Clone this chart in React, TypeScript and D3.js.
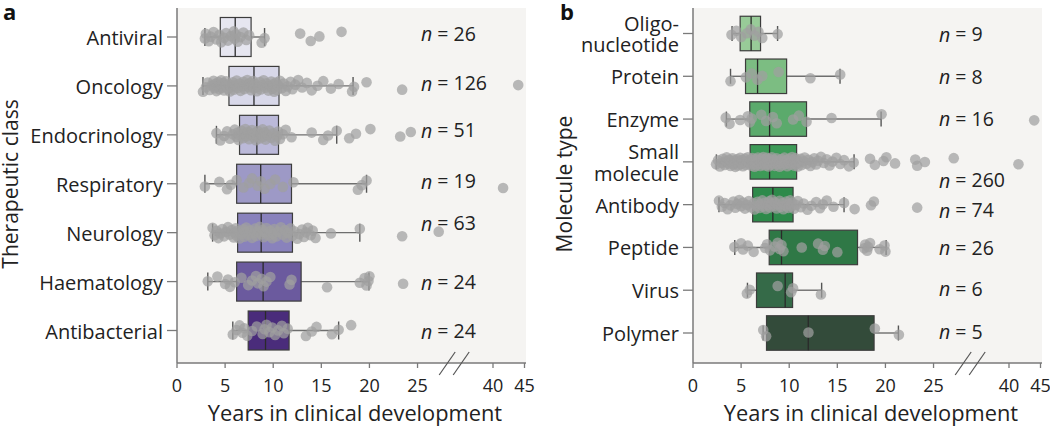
import React from 'react';
import * as d3 from 'd3';

const FONT = '"Open Sans", "DejaVu Sans", sans-serif';

// ---------- Panel a: therapeutic class ----------
const classCategories = ['Antiviral', 'Oncology', 'Endocrinology', 'Respiratory', 'Neurology', 'Haematology', 'Antibacterial'];
const classCounts = [26, 126, 51, 19, 63, 24, 24];
const classQ1 = [4.5, 5.4, 6.5, 6.2, 6.3, 6.2, 7.4];
const classMedian = [6.05, 8.0, 8.3, 8.7, 8.75, 8.95, 9.2];
const classQ3 = [7.7, 10.6, 10.55, 11.9, 12.0, 12.9, 11.65];
const classWhiskerLow = [2.9, 2.7, 4.1, 2.9, 3.7, 3.2, 5.8];
const classWhiskerHigh = [9.1, 18.3, 16.6, 19.7, 19.0, 19.95, 16.8];
const classColors = ['#e6e6f0', '#d8d8e9', '#bbb9d9', '#9d99c6', '#8982bc', '#6b5a9e', '#4a2c7b'];

const antiviralYears = [2.9, 3.0, 3.3, 3.5, 3.8, 4.1, 4.4, 4.6, 4.9, 5.1, 5.3, 5.6, 5.9, 6.0, 6.1, 6.3, 6.6, 6.9, 7.2, 7.5, 8.8, 9.1, 12.8, 13.9, 14.8, 17.1];
const oncologyYears = [
  2.7, 3.0, 3.2, 3.4, 3.6, 3.8, 3.9, 4.0, 4.1, 4.2, 4.3, 4.4, 4.5, 4.6, 4.7, 4.8, 4.9, 5.0, 5.1, 5.3,
  5.4, 5.5, 5.6, 5.8, 5.9, 6.0, 6.2, 6.3, 6.5, 6.6, 6.8, 6.9, 7.0, 7.2, 7.3, 7.5, 7.6, 7.7, 7.8, 7.9,
  8.0, 8.1, 8.3, 8.4, 8.6, 8.7, 8.9, 9.0, 9.2, 9.3, 9.5, 9.6, 9.8, 9.9, 10.0, 10.1, 10.2, 10.3, 10.4, 10.5,
  10.7, 10.9, 11.1, 11.3, 11.5, 11.8, 12.0, 12.3, 12.6, 13.0, 13.5, 14.0, 14.6, 15.2, 16.0, 16.8, 18.2, 18.4, 19.7, 23.4, 44.0,
];
const endocrinologyYears = [
  4.1, 4.5, 4.9, 5.2, 5.5, 5.8, 6.0, 6.2, 6.3, 6.4, 6.5, 6.7, 6.9, 7.0, 7.1, 7.2, 7.4, 7.5, 7.7, 7.8,
  8.0, 8.1, 8.2, 8.3, 8.4, 8.6, 8.7, 8.9, 9.0, 9.1, 9.2, 9.4, 9.6, 9.8, 10.0, 10.2, 10.4, 10.5, 10.7, 11.0,
  11.3, 11.9, 14.0, 15.2, 15.7, 16.6, 17.9, 18.6, 20.1, 23.2, 24.3,
];
const respiratoryYears = [2.9, 4.4, 5.2, 5.6, 6.2, 6.9, 7.5, 7.8, 8.4, 8.7, 9.1, 9.7, 10.2, 11.0, 12.1, 18.8, 19.2, 19.7, 41.6];
const neurologyYears = [
  3.7, 3.9, 4.1, 4.3, 4.5, 4.7, 4.9, 5.1, 5.3, 5.5, 5.7, 5.9, 6.0, 6.1, 6.2, 6.3, 6.5, 6.7, 6.9, 7.0,
  7.1, 7.2, 7.4, 7.6, 7.8, 8.0, 8.1, 8.2, 8.4, 8.6, 8.75, 8.9, 9.0, 9.1, 9.3, 9.5, 9.7, 9.9, 10.0, 10.1,
  10.3, 10.5, 10.8, 11.0, 11.2, 11.4, 11.5, 11.8, 12.0, 12.2, 12.5, 12.7, 13.0, 13.2, 13.4, 13.6, 13.9, 14.1, 14.4, 16.0,
  19.0, 23.4, 27.2,
];
const haematologyYears = [3.2, 4.2, 5.0, 5.3, 5.5, 6.0, 6.7, 7.4, 7.8, 8.2, 8.4, 8.8, 9.0, 9.3, 9.7, 11.7, 11.9, 15.6, 19.0, 19.5, 19.7, 19.9, 20.0, 23.5];
const antibacterialYears = [5.8, 6.2, 6.5, 6.8, 7.0, 7.3, 7.8, 8.3, 8.9, 9.1, 9.3, 9.6, 9.9, 10.2, 10.5, 10.9, 11.1, 11.5, 13.4, 14.0, 14.5, 16.1, 16.8, 18.1];

// ---------- Panel b: molecule type ----------
const moleculeCategories = ['Oligonucleotide', 'Protein', 'Enzyme', 'Small molecule', 'Antibody', 'Peptide', 'Virus', 'Polymer'];
const moleculeLabelLines = [['Oligo-', 'nucleotide'], ['Protein'], ['Enzyme'], ['Small', 'molecule'], ['Antibody'], ['Peptide'], ['Virus'], ['Polymer']];
const moleculeCounts = [9, 8, 16, 260, 74, 26, 6, 5];
const moleculeQ1 = [4.9, 5.46, 5.9, 5.94, 6.2, 7.92, 6.6, 7.64];
const moleculeMedian = [6.04, 6.71, 7.96, 7.96, 8.3, 9.2, 9.58, 11.98];
const moleculeQ3 = [7.02, 9.73, 11.8, 10.77, 10.4, 17.1, 10.35, 18.82];
const moleculeWhiskerLow = [4.06, 3.9, 3.47, 2.43, 2.7, 4.34, 5.66, 7.29];
const moleculeWhiskerHigh = [8.79, 15.28, 19.55, 16.74, 15.7, 20.07, 13.37, 21.35];
const moleculeColors = ['#98cb98', '#7cbd82', '#5baa6c', '#3d9a57', '#2d8a4a', '#2f7846', '#356a48', '#334b3a'];

const oligonucleotideYears = [4.0, 4.5, 5.0, 5.6, 6.0, 6.4, 6.8, 7.2, 8.8];
const proteinYears = [3.9, 5.5, 6.1, 6.7, 7.2, 8.9, 12.2, 15.3];
const enzymeYears = [3.4, 3.8, 4.9, 5.7, 5.9, 6.1, 7.1, 7.6, 8.3, 8.7, 10.4, 11.0, 11.8, 14.4, 19.6, 44.0];
const smallMoleculeYears = [
  2.4, 2.6, 2.8, 3.0, 3.1, 3.3, 3.4, 3.5, 3.7, 3.8, 3.9, 4.0, 4.1, 4.2, 4.3, 4.4, 4.5, 4.6, 4.7, 4.8,
  4.9, 5.0, 5.1, 5.2, 5.3, 5.4, 5.5, 5.6, 5.7, 5.8,
  6.0, 6.05, 6.1, 6.2, 6.25, 6.3, 6.4, 6.45, 6.5, 6.6, 6.7, 6.75, 6.8, 6.9, 7.0, 7.05, 7.1, 7.2, 7.25, 7.3,
  7.4, 7.45, 7.5, 7.6, 7.65, 7.7, 7.8, 7.85, 7.9, 7.95,
  8.0, 8.1, 8.2, 8.3, 8.4, 8.5, 8.6, 8.7, 8.8, 8.9, 9.0, 9.1, 9.2, 9.3, 9.4, 9.5, 9.6, 9.7, 9.8, 9.9,
  10.0, 10.1, 10.2, 10.3, 10.4, 10.5, 10.55, 10.6, 10.65, 10.7,
  10.8, 10.9, 11.0, 11.2, 11.3, 11.5, 11.6, 11.8, 12.0, 12.2, 12.4, 12.6, 12.8, 13.0, 13.3, 13.6, 13.9, 14.2, 14.5, 14.9,
  15.3, 15.7, 16.2, 16.7, 18.4, 18.9, 19.8, 20.1, 21.0, 23.1, 23.3, 24.1, 27.1, 41.5,
];
const antibodyYears = [
  2.7, 3.0, 3.3, 3.6, 3.9, 4.2, 4.4, 4.6, 4.8, 5.0, 5.2, 5.4, 5.6, 5.8, 6.0,
  6.3, 6.4, 6.6, 6.7, 6.9, 7.0, 7.2, 7.3, 7.5, 7.6, 7.8, 7.9, 8.0, 8.1, 8.2,
  8.4, 8.5, 8.7, 8.8, 9.0, 9.1, 9.3, 9.4, 9.6, 9.7, 9.9, 10.0, 10.1, 10.2, 10.3,
  10.5, 10.7, 10.9, 11.2, 11.5, 11.9, 12.3, 12.8, 13.2, 13.5, 13.9, 14.6, 15.7, 16.8, 18.5, 18.8, 23.3,
];
const peptideYears = [4.3, 5.0, 5.2, 5.7, 6.3, 7.5, 7.7, 8.0, 8.5, 8.8, 9.0, 9.2, 9.4, 11.3, 13.0, 13.5, 13.7, 15.0, 17.8, 17.9, 18.1, 18.2, 18.4, 19.4, 19.9, 20.0];
const virusYears = [5.6, 5.9, 8.8, 10.2, 10.4, 13.3];
const polymerYears = [7.3, 7.6, 12.0, 18.9, 21.4];

const xTickValues = [0, 5, 10, 15, 20, 25, 40, 45];

// layout
const PLOT_TOP = 8;
const PLOT_BOTTOM = 363;
const PLOT_W = 349;

interface PanelProps {
  x0: number;
  letter: string;
  letterX: number;
  title: string;
  titleX: number;
  cats: string[];
  labelLines: string[][];
  counts: number[];
  q1: number[];
  med: number[];
  q3: number[];
  lo: number[];
  hi: number[];
  colors: string[];
  points: number[][];
  yFirst: number;
  yLast: number;
  boxH: number;
  capH: number;
  jitterAmp: number;
  nDy: number[];
  nX: number;
  lineGap: number;
}

function Panel(p: PanelProps) {
  const x = d3.scaleLinear().domain([0, 28, 40, 45]).range([p.x0, p.x0 + 269.4, p.x0 + 316, p.x0 + 347.5]);
  const y = d3.scalePoint<string>().domain(p.cats).range([p.yFirst, p.yLast]);
  const axisColor = '#7a7a7a';
  const brk1 = x(28.2) as number;
  const brk2 = brk1 + 14;
  return (
    <g>
      <rect x={p.x0} y={PLOT_TOP} width={PLOT_W} height={PLOT_BOTTOM - PLOT_TOP} fill="#f5f4f2" />
      {p.cats.map((c, i) => {
        const cy = y(c) as number;
        return (
          <g key={c}>
            <line x1={x(p.lo[i])} x2={x(p.q1[i])} y1={cy} y2={cy} stroke="#6e6e6e" strokeWidth={1.4} />
            <line x1={x(p.q3[i])} x2={x(p.hi[i])} y1={cy} y2={cy} stroke="#6e6e6e" strokeWidth={1.4} />
            <line x1={x(p.lo[i])} x2={x(p.lo[i])} y1={cy - p.capH / 2} y2={cy + p.capH / 2} stroke="#555" strokeWidth={1.4} />
            <line x1={x(p.hi[i])} x2={x(p.hi[i])} y1={cy - p.capH / 2} y2={cy + p.capH / 2} stroke="#555" strokeWidth={1.4} />
            <rect
              x={x(p.q1[i])}
              y={cy - p.boxH / 2}
              width={(x(p.q3[i]) as number) - (x(p.q1[i]) as number)}
              height={p.boxH}
              fill={p.colors[i]}
              stroke="#3c3c3c"
              strokeWidth={1.2}
            />
            <line x1={x(p.med[i])} x2={x(p.med[i])} y1={cy - p.boxH / 2} y2={cy + p.boxH / 2} stroke="#2a2a2a" strokeWidth={1.3} />
          </g>
        );
      })}
      {p.cats.map((c, i) => {
        const cy = y(c) as number;
        return (
          <g key={'pts' + c}>
            {p.points[i].map((v, j) => {
              const jit = ((((j + 1) * 0.61803398875 + i * 0.37) % 1) - 0.5) * 2 * p.jitterAmp;
              return <circle key={j} cx={x(v)} cy={cy + jit} r={5.3} fill="#a0a0a0" fillOpacity={0.72} />;
            })}
          </g>
        );
      })}
      <line x1={p.x0} x2={p.x0} y1={PLOT_TOP} y2={PLOT_BOTTOM} stroke={axisColor} strokeWidth={1.5} />
      <line x1={p.x0} x2={p.x0 + PLOT_W} y1={PLOT_BOTTOM} y2={PLOT_BOTTOM} stroke={axisColor} strokeWidth={1.5} />
      <line x1={brk1 - 8} x2={brk1 + 8} y1={PLOT_BOTTOM + 12} y2={PLOT_BOTTOM - 11} stroke="#555" strokeWidth={1.2} />
      <line x1={brk2 - 8} x2={brk2 + 8} y1={PLOT_BOTTOM + 12} y2={PLOT_BOTTOM - 11} stroke="#555" strokeWidth={1.2} />
      {xTickValues.map((t) => (
        <g key={'t' + t}>
          <line x1={x(t)} x2={x(t)} y1={PLOT_BOTTOM} y2={PLOT_BOTTOM + 5} stroke={axisColor} strokeWidth={1.3} />
          <text x={x(t)} y={385} textAnchor="middle" dominantBaseline="central" fontSize={18} fill="#222" fontFamily={FONT}>
            {t}
          </text>
        </g>
      ))}
      {p.cats.map((c, i) => {
        const cy = y(c) as number;
        const lines = p.labelLines[i];
        const startY = cy - ((lines.length - 1) / 2) * p.lineGap;
        return (
          <g key={'yl' + c}>
            <line x1={p.x0 - 10} x2={p.x0} y1={cy} y2={cy} stroke={axisColor} strokeWidth={1.3} />
            <text x={p.x0 - 14} y={startY} textAnchor="end" dominantBaseline="central" fontSize={20} fill="#222" fontFamily={FONT}>
              {lines.map((ln, k) => (
                <tspan key={k} x={p.x0 - 14} dy={k === 0 ? 0 : p.lineGap}>
                  {ln}
                </tspan>
              ))}
            </text>
            <text x={p.nX} y={cy + p.nDy[i]} dominantBaseline="central" fontSize={19.5} fill="#222" fontFamily={FONT}>
              <tspan fontStyle="italic">n</tspan>
              {' = ' + p.counts[i]}
            </text>
          </g>
        );
      })}
      <text x={p.x0 + 178} y={412} textAnchor="middle" dominantBaseline="central" fontSize={21.8} fill="#222" fontFamily={FONT}>
        Years in clinical development
      </text>
      <text transform={`translate(${p.titleX},184) rotate(-90)`} textAnchor="middle" fontSize={21} fill="#222" fontFamily={FONT}>
        {p.title}
      </text>
      <text x={p.letterX} y={20} fontSize={22} fontWeight="bold" fill="#111" fontFamily={FONT}>
        {p.letter}
      </text>
    </g>
  );
}

export default function App() {
  return (
    <svg width={1050} height={427} style={{ position: 'absolute', left: 0, top: 0, background: '#fff' }}>
      <Panel
        x0={177}
        letter="a"
        letterX={3}
        title="Therapeutic class"
        titleX={18}
        cats={classCategories}
        labelLines={classCategories.map((c) => [c])}
        counts={classCounts}
        q1={classQ1}
        med={classMedian}
        q3={classQ3}
        lo={classWhiskerLow}
        hi={classWhiskerHigh}
        colors={classColors}
        points={[antiviralYears, oncologyYears, endocrinologyYears, respiratoryYears, neurologyYears, haematologyYears, antibacterialYears]}
        yFirst={37}
        yLast={330.5}
        boxH={39}
        capH={18}
        jitterAmp={6}
        nDy={[-4, -3, -5, -3, -10, 0, 0]}
        nX={421}
        lineGap={22}
      />
      <Panel
        x0={693}
        letter="b"
        letterX={560}
        title="Molecule type"
        titleX={572}
        cats={moleculeCategories}
        labelLines={moleculeLabelLines}
        counts={moleculeCounts}
        q1={moleculeQ1}
        med={moleculeMedian}
        q3={moleculeQ3}
        lo={moleculeWhiskerLow}
        hi={moleculeWhiskerHigh}
        colors={moleculeColors}
        points={[oligonucleotideYears, proteinYears, enzymeYears, smallMoleculeYears, antibodyYears, peptideYears, virusYears, polymerYears]}
        yFirst={33.5}
        yLast={333}
        boxH={34.5}
        capH={15}
        jitterAmp={5}
        nDy={[0, 0, -1, 18, 5, 0, -2, -2]}
        nX={939}
        lineGap={21.5}
      />
    </svg>
  );
}
